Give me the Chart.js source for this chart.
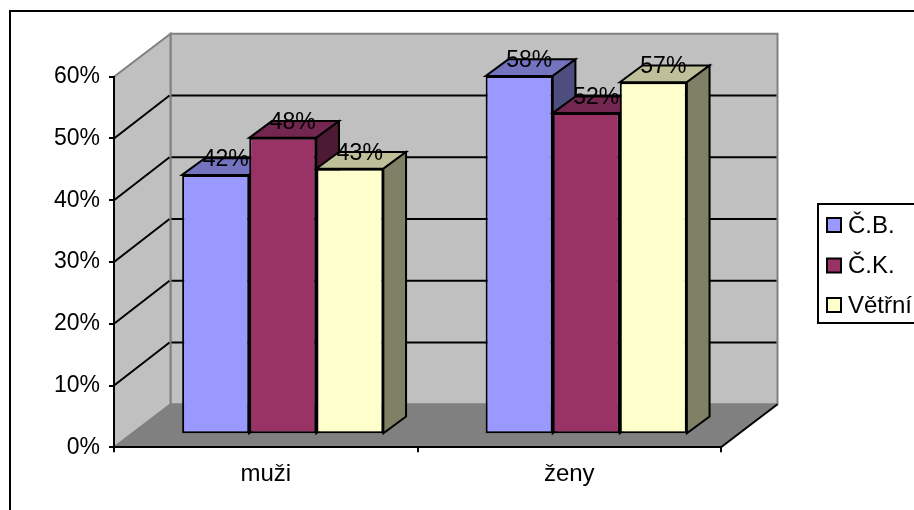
<!DOCTYPE html>
<html lang="cs">
<head>
<meta charset="utf-8">
<title>Graf</title>
<script src="https://cdn.jsdelivr.net/npm/chart.js@4"></script>
<style>
    html, body { margin: 0; padding: 0; background: #ffffff; overflow: hidden; }
    canvas { display: block; }
</style>
</head>
<body>
<canvas id="chart" width="914" height="510"></canvas>
<script>
// Data
const categories = ['muži', 'ženy'];
const seriesNames = ['Č.B.', 'Č.K.', 'Větřní'];
const cbValues = [42, 58];
const ckValues = [48, 52];
const vetrniValues = [43, 57];

// Colours per series: front, top, side
const frontColors = ['#9999ff', '#993366', '#ffffcc'];
const topColors = ['#7373bf', '#732650', '#bfbf99'];
const sideColors = ['#4d4d80', '#4d1a33', '#808066'];

const FONT_FAMILY = '"Liberation Sans", Arial, sans-serif';
const FONT = '23px ' + FONT_FAMILY;

// 3D offsets: back wall from the axis plane, bar front from the axis plane, bar depth
const WALL_DX = 56.5, WALL_DY = -43;
const BAR_DX = 17, BAR_DY = -13;
const DEPTH_DX = 22.7, DEPTH_DY = -16.7;

function polygon(ctx, pts, fill, stroke, width) {
    ctx.beginPath();
    pts.forEach((p, i) => i ? ctx.lineTo(p[0], p[1]) : ctx.moveTo(p[0], p[1]));
    ctx.closePath();
    ctx.fillStyle = fill;
    ctx.fill();
    if (stroke) {
        ctx.strokeStyle = stroke;
        ctx.lineWidth = width;
        ctx.lineJoin = 'miter';
        ctx.stroke();
    }
}

// Frame, walls, floor and gridlines go under everything else
const wallsPlugin = {
    id: 'walls',
    beforeDraw(chart) {
        const { ctx, chartArea: a, scales } = chart;
        const bx = WALL_DX, by = WALL_DY;
        ctx.save();

        ctx.strokeStyle = '#000000';
        ctx.lineWidth = 2;
        ctx.strokeRect(10, 11, 1000, 1000);

        polygon(ctx, [[a.left + bx, a.top + by], [a.right + bx, a.top + by], [a.right + bx, a.bottom + by], [a.left + bx, a.bottom + by]], '#c0c0c0', '#808080', 2);
        polygon(ctx, [[a.left, a.top], [a.left + bx, a.top + by], [a.left + bx, a.bottom + by], [a.left, a.bottom]], '#c0c0c0', '#808080', 2);
        polygon(ctx, [[a.left, a.bottom], [a.left + bx, a.bottom + by], [a.right + bx, a.bottom + by], [a.right, a.bottom]], '#808080');

        // Gridlines run along the side wall and then the back wall
        ctx.strokeStyle = '#000000';
        ctx.lineWidth = 2;
        scales.y.ticks.forEach(t => {
            if (t.value === 0 || t.value === scales.y.max) return;
            const y = scales.y.getPixelForValue(t.value);
            ctx.beginPath();
            ctx.moveTo(a.left, y);
            ctx.lineTo(a.left + bx - 1, y + by);
            ctx.moveTo(a.left + bx + 1, y + by);
            ctx.lineTo(a.right + bx - 1, y + by);
            ctx.stroke();
        });

        // Black edge of the floor on the right
        ctx.beginPath();
        ctx.moveTo(a.right, a.bottom);
        ctx.lineTo(a.right + bx, a.bottom + by);
        ctx.stroke();

        ctx.restore();
    },
    afterDraw(chart) {
        // Legend
        const { ctx } = chart;
        const rowY = [225, 265.5, 305];
        ctx.save();
        ctx.strokeStyle = '#000000';
        ctx.lineWidth = 2;
        ctx.fillStyle = '#ffffff';
        ctx.fillRect(818, 204, 100, 119);
        ctx.strokeRect(818, 204, 100, 119);
        ctx.font = '24px ' + FONT_FAMILY;
        ctx.textBaseline = 'middle';
        ctx.textAlign = 'left';
        seriesNames.forEach((name, i) => {
            ctx.fillStyle = frontColors[i];
            ctx.fillRect(827, rowY[i] - 7, 14, 14);
            ctx.strokeRect(827, rowY[i] - 7, 14, 14);
            ctx.fillStyle = '#000000';
            ctx.fillText(name, 848, rowY[i] + 1);
        });
        ctx.restore();
    }
};

// Series are painted first to last so the later ones cover the earlier ones.
// Each is moved back into the box, with top and side under the library's front face.
const boxPlugin = {
    id: 'boxes',
    beforeDatasetsDraw(chart) {
        const { ctx } = chart;
        chart.data.datasets.forEach((dataset, i) => {
            const meta = chart.getDatasetMeta(i);
            ctx.save();
            ctx.translate(BAR_DX, BAR_DY);
            meta.data.forEach(bar => {
                const l = bar.x - bar.width / 2, r = bar.x + bar.width / 2;
                polygon(ctx, [[l, bar.y], [l + DEPTH_DX, bar.y + DEPTH_DY], [r + DEPTH_DX, bar.y + DEPTH_DY], [r, bar.y]], topColors[i], '#000000', 2);
                polygon(ctx, [[r, bar.y], [r + DEPTH_DX, bar.y + DEPTH_DY], [r + DEPTH_DX, bar.base + DEPTH_DY], [r, bar.base]], sideColors[i], '#000000', 2);
            });
            meta.controller.draw();
            ctx.font = FONT;
            ctx.fillStyle = '#000000';
            ctx.textAlign = 'center';
            ctx.textBaseline = 'alphabetic';
            meta.data.forEach((bar, j) => {
                ctx.fillText(dataset.data[j] + '%', bar.x + 10, bar.y - 9);
            });
            ctx.restore();
        });
        return false; // the library's own pass would paint them in reverse
    }
};

const seriesValues = [cbValues, ckValues, vetrniValues];

new Chart(document.getElementById('chart').getContext('2d'), {
    type: 'bar',
    data: {
        labels: categories,
        datasets: seriesNames.map((name, i) => ({
            label: name,
            data: seriesValues[i],
            backgroundColor: frontColors[i],
            borderColor: '#000000',
            borderWidth: 2,
            borderSkipped: false,
            barPercentage: 1,
            categoryPercentage: 0.663
        }))
    },
    options: {
        responsive: false,
        animation: false,
        events: [],
        layout: { padding: { left: 0, right: 193, top: 76.7, bottom: 0 } },
        plugins: { legend: { display: false }, tooltip: { enabled: false } },
        scales: {
            x: {
                afterFit(scale) {
                    scale.height = 510 - 76.7 - 370.6;
                    scale.paddingLeft = scale.paddingRight = 0;
                },
                grid: { drawOnChartArea: false, offset: true, color: '#000000', lineWidth: 2, tickLength: 5 },
                border: { color: '#000000', width: 2 },
                ticks: { color: '#000000', font: { family: FONT_FAMILY, size: 24 }, padding: 8, maxRotation: 0 }
            },
            y: {
                min: 0,
                max: 60,
                afterFit(scale) {
                    scale.width = 114;
                    scale.paddingTop = scale.paddingBottom = 0;
                },
                grid: { drawOnChartArea: false, color: '#000000', lineWidth: 2, tickLength: 5 },
                border: { color: '#000000', width: 2 },
                ticks: {
                    stepSize: 10,
                    color: '#000000',
                    font: { family: FONT_FAMILY, size: 23 },
                    padding: 9,
                    callback: v => v + '%'
                }
            }
        }
    },
    plugins: [wallsPlugin, boxPlugin]
});
</script>
</body>
</html>
